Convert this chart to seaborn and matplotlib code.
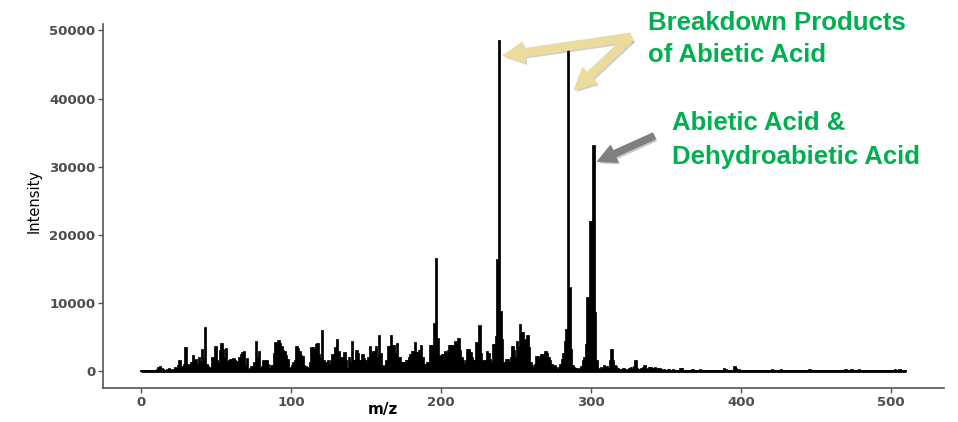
import numpy as np
import pandas as pd
import matplotlib
matplotlib.use("Agg")
import matplotlib.pyplot as plt
import matplotlib.patheffects as pe
import seaborn as sns

# m/z axis, one bar per integer mass
mz = np.arange(0, 511)

# intensities for m/z 10..350
forest_start = 10
forest_intensity = [
    0, 150, 500, 600, 400, 150, 0, 100, 250, 350,
    200, 100, 250, 500, 300, 800, 1560, 300, 600, 1000,
    3500, 800, 1000, 400, 1200, 2300, 1500, 1700, 900, 1950,
    1400, 3200, 1800, 6300, 950, 600, 300, 500, 1950, 1200,
    3650, 1500, 1200, 3000, 4000, 3200, 2000, 3250, 1450, 1500,
    1700, 1300, 1800, 1500, 1450, 1200, 1950, 2400, 2700, 2800,
    730, 1800, 250, 300, 600, 400, 1200, 4250, 2000, 2800,
    300, 600, 1560, 1200, 1460, 1000, 400, 730, 830, 2500,
    4140, 3800, 4530, 4000, 3650, 3000, 2920, 2300, 1700, 550,
    300, 830, 1200, 1460, 3650, 3250, 2920, 2300, 2190, 830,
    600, 490, 300, 1200, 3400, 3500, 3160, 3900, 4000, 2400,
    1800, 6000, 1460, 1300, 1300, 1460, 1000, 1460, 2430, 2430,
    3500, 4620, 2920, 2000, 1950, 1460, 2680, 1460, 300, 1950,
    1200, 4380, 1460, 1460, 3060, 2500, 1460, 1460, 2430, 1800,
    1460, 1000, 2000, 3650, 2500, 2920, 2920, 3650, 2000, 5200,
    2500, 830, 700, 730, 1500, 3650, 3650, 5200, 3750, 3750,
    2500, 4000, 1950, 1950, 1300, 1300, 1300, 1460, 1460, 2000,
    2430, 2920, 2920, 4240, 2680, 2680, 3000, 3750, 2000, 970,
    1000, 1300, 1300, 3750, 3750, 3750, 7000, 16500, 4700, 2200,
    2190, 2430, 2430, 2920, 2500, 3000, 3750, 3750, 3750, 2500,
    4380, 4000, 4720, 3000, 1950, 1500, 970, 1500, 3160, 3160,
    2680, 2000, 1460, 1460, 4140, 3000, 6670, 2500, 1460, 1000,
    1500, 2920, 2500, 1700, 1300, 3900, 3900, 5000, 16300, 48500,
    8760, 4620, 1300, 1300, 1700, 1700, 1200, 2000, 3650, 3000,
    1950, 4380, 3500, 6800, 5600, 5600, 4620, 4000, 5200, 3500,
    1200, 800, 490, 1000, 2190, 2190, 1950, 2430, 2430, 1800,
    2920, 2500, 1950, 1500, 970, 700, 730, 490, 250, 500,
    1000, 1700, 2500, 4380, 6100, 47000, 12300, 3160, 800, 500,
    350, 300, 250, 300, 600, 1460, 2000, 3900, 10800, 10800,
    21900, 21900, 33000, 8600, 1460, 300, 200, 490, 400, 830,
    500, 600, 300, 1460, 3160, 1460, 800, 600, 300, 200,
    150, 200, 350, 150, 100, 200, 300, 440, 200, 600,
    1460, 400, 200, 150, 300, 500, 830, 300, 200, 440,
    490, 400, 300, 440, 300, 200, 400, 200, 100, 150,
    100,
]

# small peaks in the high-mass tail
tail_mz = [352, 355, 358, 360, 361, 365, 368, 373, 377, 382, 386, 389, 390,
           396, 397, 399, 405, 412, 421, 427, 433, 446, 458, 470, 474, 479,
           490, 503, 506, 508]
tail_intensity = [150, 250, 120, 340, 300, 120, 150, 150, 100, 100, 120, 340,
                  200, 630, 400, 250, 100, 100, 200, 200, 100, 150, 100, 150,
                  150, 150, 100, 150, 150, 120]

intensity = np.zeros(len(mz))
intensity[forest_start:forest_start + len(forest_intensity)] = forest_intensity
intensity[tail_mz] = tail_intensity

df = pd.DataFrame({"m/z": mz, "Intensity": intensity})

x_ticks = [0, 100, 200, 300, 400, 500]
y_ticks = [0, 10000, 20000, 30000, 40000, 50000]

green = "#00B050"
khaki = "#EBDC9E"
grey_arrow = "#7F7F7F"

sns.set_theme(style="ticks")
plt.rcParams["font.family"] = ["DejaVu Sans"]

fig = plt.figure(figsize=(9.58, 4.22), dpi=100)
ax = fig.add_axes([103 / 958, 34 / 422, 841 / 958, 364 / 422])

sns.histplot(data=df, x="m/z", weights="Intensity", discrete=True,
             color="black", edgecolor="black", linewidth=1.25, alpha=1,
             ax=ax)
# thick zero line under the spectrum, like the original
ax.hlines(0, df["m/z"].min(), df["m/z"].max(), color="black", lw=2.0)

ax.set_xlim(-25.5, 535.5)
ax.set_ylim(-2425, 50925)
ax.set_xticks(x_ticks)
ax.set_yticks(y_ticks)
ax.set_xticklabels([str(t) for t in x_ticks])
ax.set_yticklabels([str(t) for t in y_ticks])
ax.tick_params(axis="both", length=3.6, width=1.0, color="#555555",
               labelcolor="#4D4D4D", labelsize=9.5, pad=2)
for lab in ax.get_xticklabels() + ax.get_yticklabels():
    lab.set_fontweight("bold")

sns.despine(ax=ax)
for side in ["left", "bottom"]:
    ax.spines[side].set_color("#555555")
    ax.spines[side].set_linewidth(1.2)

ax.set_xlabel("m/z", fontsize=11, fontweight="bold", color="black")
ax.set_ylabel("Intensity", fontsize=10.5, color="black")
ax.xaxis.set_label_coords(0.333, -0.038)
ax.yaxis.set_label_coords(-0.073, 0.514)

# annotation labels
txt = dict(color=green, fontsize=18.5, fontweight="bold",
           family=["Liberation Sans", "DejaVu Sans"], va="baseline", ha="left")
fig.text(648 / 958, 1 - 29.5 / 422, "Breakdown Products", **txt)
fig.text(648 / 958, 1 - 61.5 / 422, "of Abietic Acid", **txt)
fig.text(672.5 / 958, 1 - 130.5 / 422, "Abietic Acid &", **txt)
fig.text(672.5 / 958, 1 - 164 / 422, "Dehydroabietic Acid", **txt)

# arrows (data coordinates)
shadow = [pe.withSimplePatchShadow(offset=(1.5, -1.5), alpha=0.25)]
yellow_style = "simple,head_length=1.5,head_width=1.5,tail_width=0.55"
for tip in [(241.5, 46300), (289.0, 41300)]:
    ax.annotate("", xy=tip, xytext=(326.5, 49000), annotation_clip=False,
                arrowprops=dict(arrowstyle=yellow_style, color=khaki,
                                mutation_scale=10, shrinkA=0, shrinkB=0,
                                path_effects=shadow))
ax.annotate("", xy=(304.5, 30800), xytext=(342.0, 34500), annotation_clip=False,
            arrowprops=dict(arrowstyle="simple,head_length=1.3,head_width=1.3,tail_width=0.45",
                            color=grey_arrow, mutation_scale=10,
                            shrinkA=0, shrinkB=0, path_effects=shadow))

fig.savefig("out.png", dpi=100, facecolor="white")
